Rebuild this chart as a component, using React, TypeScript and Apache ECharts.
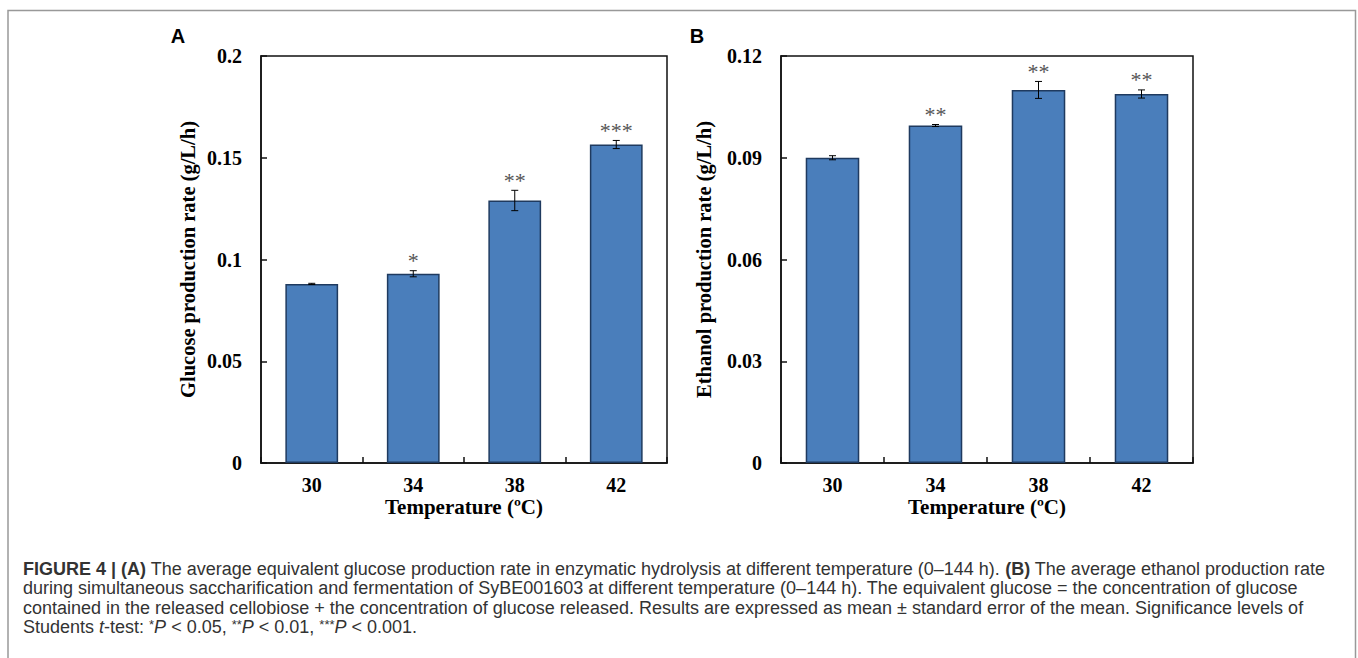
import React, { useEffect, useRef } from "react";
import * as echarts from "echarts";

const categories = ["30", "34", "38", "42"];
const glucoseRate = [0.088, 0.093, 0.129, 0.1565];
const glucoseErr = [0.0003, 0.0015, 0.005, 0.002];
const glucoseSig = ["", "*", "**", "***"];
const ethanolRate = [0.09, 0.0995, 0.11, 0.1088];
const ethanolErr = [0.0006, 0.0003, 0.0025, 0.0012];
const ethanolSig = ["", "**", "**", "**"];

const glucoseTicks = { min: 0, max: 0.2, interval: 0.05 };
const ethanolTicks = { min: 0, max: 0.12, interval: 0.03 };

const captionLines = [
  "{b|FIGURE 4 | (A)} The average equivalent glucose production rate in enzymatic hydrolysis at different temperature (0–144 h). {b|(B)} The average ethanol production rate",
  "during simultaneous saccharification and fermentation of SyBE001603 at different temperature (0–144 h). The equivalent glucose = the concentration of glucose",
  "contained in the released cellobiose + the concentration of glucose released. Results are expressed as mean ± standard error of the mean. Significance levels of",
  "Students {i|t}-test: {s|*}{i|P} < 0.05, {s|**}{i|P} < 0.01, {s|***}{i|P} < 0.001.",
];

const SERIF = '"Liberation Serif", "Times New Roman", serif';
const SANS = '"Liberation Sans", Arial, sans-serif';

function errorSeries(idx: number, vals: number[], errs: number[], sig: string[]) {
  return {
    type: "custom",
    xAxisIndex: idx,
    yAxisIndex: idx,
    z: 5,
    data: vals.map((v, i) => [i, v, errs[i]]),
    encode: { x: 0, y: 1 },
    renderItem: (params: any, api: any) => {
      const i = api.value(0);
      const v = api.value(1);
      const e = api.value(2);
      const top = api.coord([i, v + e]);
      const bot = api.coord([i, v - e]);
      const cap = 3.5;
      const st = { stroke: "#000", lineWidth: 1 };
      const children: any[] = [
        { type: "line", shape: { x1: top[0], y1: top[1], x2: bot[0], y2: bot[1] }, style: st },
        { type: "line", shape: { x1: top[0] - cap, y1: top[1], x2: top[0] + cap, y2: top[1] }, style: st },
        { type: "line", shape: { x1: bot[0] - cap, y1: bot[1], x2: bot[0] + cap, y2: bot[1] }, style: st },
      ];
      const s = sig[params.dataIndex];
      if (s) {
        children.push({
          type: "text",
          x: top[0],
          y: top[1] - 10,
          style: {
            text: s,
            fill: "#555",
            font: `22px ${SERIF}`,
            align: "center",
            verticalAlign: "middle",
          },
        });
      }
      return { type: "group", children };
    },
  };
}

function makeAxes(idx: number, name: string, ticks: any, nameGap: number) {
  const x = {
    type: "category",
    gridIndex: idx,
    data: categories,
    name: "Temperature (ºC)",
    nameLocation: "middle",
    nameGap: 33,
    nameMoveOverlap: false,
    nameTextStyle: { fontFamily: SERIF, fontWeight: "bold", fontSize: 21, color: "#000", lineHeight: 21 },
    axisLine: { show: true, lineStyle: { color: "#111", width: 1.5 } },
    axisTick: { show: true, inside: true, length: 6, lineStyle: { color: "#111", width: 1.5 } },
    axisLabel: { fontFamily: SERIF, fontWeight: "bold", fontSize: 20, color: "#000", margin: 12, lineHeight: 20 },
    splitLine: { show: false },
  };
  const y = {
    type: "value",
    gridIndex: idx,
    min: ticks.min,
    max: ticks.max,
    interval: ticks.interval,
    name,
    nameLocation: "middle",
    nameGap,
    nameTextStyle: { fontFamily: SERIF, fontWeight: "bold", fontSize: 20.5, color: "#000" },
    axisLine: { show: true, lineStyle: { color: "#111", width: 1.5 } },
    axisTick: { show: true, inside: true, length: 6, lineStyle: { color: "#111", width: 1.5 } },
    axisLabel: { fontFamily: SERIF, fontWeight: "bold", fontSize: 20, color: "#000", margin: 19 },
    splitLine: { show: false },
  };
  return { x, y };
}

export default function App() {
  const ref = useRef<HTMLDivElement>(null);
  useEffect(() => {
    if (!ref.current) return;
    const chart = echarts.init(ref.current, null, { renderer: "svg" });
    const a = makeAxes(0, "Glucose production rate (g/L/h)", glucoseTicks, 63);
    const b = makeAxes(1, "Ethanol production rate (g/L/h)", ethanolTicks, 67);
    const barStyle = { color: "#4a7ebb", borderColor: "#1f3a5f", borderWidth: 1.5 };
    const lineY0 = 569;
    const lineStep = 19.3;
    const option: any = {
      animation: false,
      backgroundColor: "#fff",
      grid: [
        { left: 261, top: 56, width: 406, height: 407, show: true, borderColor: "#111", borderWidth: 1.5, backgroundColor: "transparent" },
        { left: 781, top: 56, width: 412, height: 407, show: true, borderColor: "#111", borderWidth: 1.5, backgroundColor: "transparent" },
      ],
      xAxis: [a.x, b.x],
      yAxis: [a.y, b.y],
      series: [
        { type: "bar", xAxisIndex: 0, yAxisIndex: 0, data: glucoseRate, barWidth: "52%", itemStyle: barStyle },
        errorSeries(0, glucoseRate, glucoseErr, glucoseSig),
        { type: "bar", xAxisIndex: 1, yAxisIndex: 1, data: ethanolRate, barWidth: "52%", itemStyle: barStyle },
        errorSeries(1, ethanolRate, ethanolErr, ethanolSig),
      ],
      graphic: [
        {
          type: "rect",
          shape: { x: 8, y: 10.5, width: 1347.5, height: 700 },
          style: { fill: "none", stroke: "#999", lineWidth: 1.5 },
          silent: true,
        },
        {
          type: "text",
          x: 178,
          y: 36,
          style: { text: "A", font: `bold 20px ${SANS}`, fill: "#000", align: "center", verticalAlign: "middle" },
        },
        {
          type: "text",
          x: 697,
          y: 36,
          style: { text: "B", font: `bold 20px ${SANS}`, fill: "#000", align: "center", verticalAlign: "middle" },
        },
        ...captionLines.map((t, k) => ({
          type: "text",
          x: 23,
          y: lineY0 + k * lineStep,
          style: {
            text: t,
            fill: "#333",
            fontFamily: SANS,
            fontSize: 18,
            align: "left",
            verticalAlign: "middle",
            rich: {
              b: { fontFamily: SANS, fontSize: 18, fontWeight: "bold", fill: "#333" },
              i: { fontFamily: SANS, fontSize: 18, fontStyle: "italic", fill: "#333" },
              s: { fontFamily: SANS, fontSize: 13, fill: "#333", verticalAlign: "top" },
            },
          },
        })),
      ],
    };
    chart.setOption(option);
    return () => chart.dispose();
  }, []);
  return (
    <div
      ref={ref}
      style={{ position: "fixed", left: 0, top: 0, width: 1358, height: 658, background: "#fff" }}
    />
  );
}
